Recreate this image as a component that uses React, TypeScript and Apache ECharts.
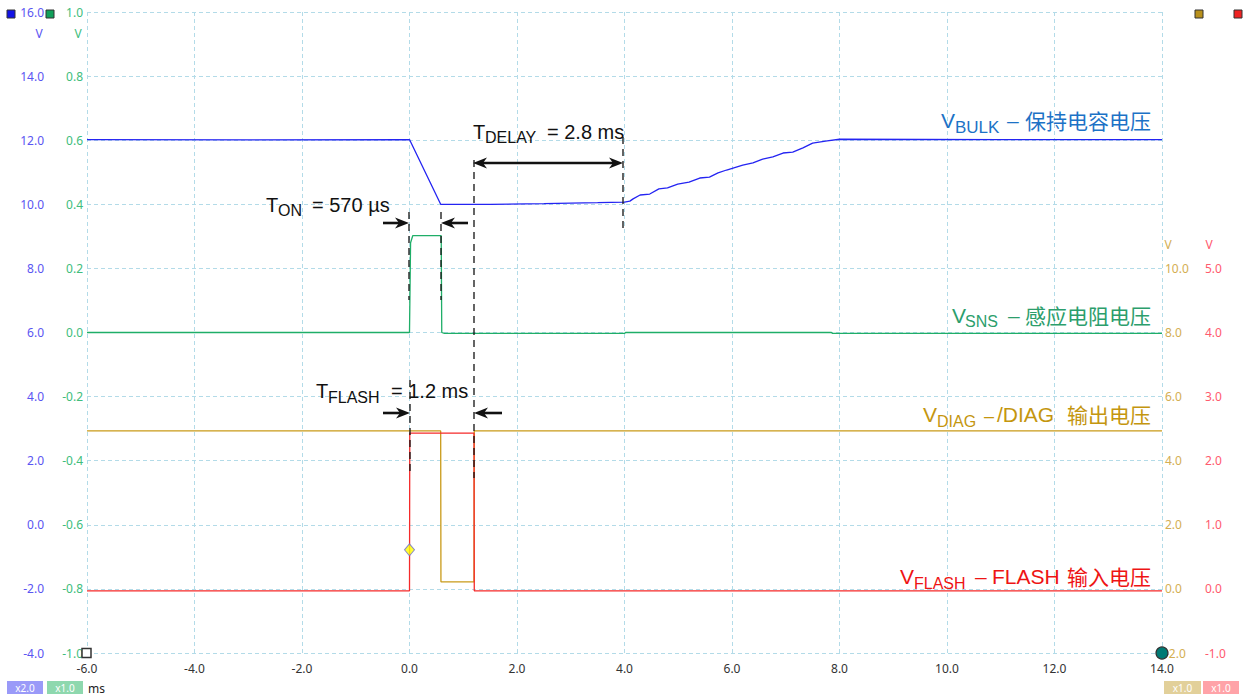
import React, { useEffect, useRef } from 'react';
import * as echarts from 'echarts';

// ---------- data (time in ms, values in V) ----------
const timeRange = [-6, 14];
const bulkData: [number, number][] = [
  [-6, 12.02], [-3, 12.01], [0, 12.02], [0.58, 10.0], [1.5, 10.0], [2.5, 10.02], [3.5, 10.05], [4.0, 10.07],
  [4.1, 10.1], [4.16, 10.17], [4.29, 10.29], [4.47, 10.32], [4.64, 10.48], [4.8, 10.51], [4.99, 10.63],
  [5.2, 10.69], [5.4, 10.82], [5.58, 10.85], [5.74, 10.98], [5.9, 11.07], [6.02, 11.13], [6.2, 11.22],
  [6.39, 11.29], [6.57, 11.41], [6.76, 11.48], [6.95, 11.6], [7.13, 11.63], [7.32, 11.76], [7.5, 11.91],
  [7.77, 11.98], [8.0, 12.03], [11, 12.02], [14, 12.02],
];
const snsData: [number, number][] = [
  [-6, 0.0], [0.0, 0.0], [0.02, 0.28], [0.06, 0.302], [0.59, 0.302], [0.6, 0.0], [0.65, -0.003],
  [4.0, -0.003], [4.02, 0.0], [7.85, 0.0], [7.87, -0.003], [14, -0.003],
];
const diagData: [number, number][] = [
  [-6, 4.93], [0.58, 4.93], [0.585, 0.22], [1.2, 0.22], [1.205, 4.93], [14, 4.93],
];
const flashData: [number, number][] = [
  [-6, -0.03], [0.0, -0.03], [0.005, 2.43], [1.2, 2.43], [1.205, -0.03], [14, -0.03],
];
const triggerPoint: [number, number][] = [[0, 0.61]];

// axis ranges
const bulkAxis = { min: -4, max: 16, interval: 2 };
const snsAxis = { min: -1, max: 1, interval: 0.2 };
const diagAxis = { min: -2, max: 18, interval: 2, labelMax: 10 };
const flashAxis = { min: -1, max: 9, interval: 1, labelMax: 5 };

const LATIN = '"Liberation Sans", Arial, sans-serif';
const CJK = '"Noto Sans CJK SC", sans-serif';
const TICK = '"Noto Sans", sans-serif';

const C = {
  bulkLine: '#2424f2', bulkText: '#1c72c6', bulkAxis: '#5a55f2',
  snsLine: '#1fae68', snsText: '#2c9e6c', snsAxis: '#40bd7c',
  diagLine: '#c99a18', diagText: '#c4960f', diagAxis: '#d4ae52',
  flashLine: '#f52a2a', flashText: '#ee1414', flashAxis: '#ff5a6e',
  grid: '#b3dbe8', ink: '#111111',
};

function txt(x: number, baseline: number, text: string, size: number, color: string, align = 'left', cjk = false) {
  const y = baseline - (cjk ? 0.38 : 0.35) * size;
  return {
    type: 'text', x, y, z: 50,
    style: {
      text, fontSize: size, fontFamily: cjk ? CJK : LATIN, fill: color,
      textAlign: align, textVerticalAlign: 'middle', align, verticalAlign: 'middle',
    },
  };
}
function small(x: number, cy: number, text: string, color: string, size = 12, align = 'left') {
  return {
    type: 'text', x, y: cy, z: 50,
    style: { text, fontSize: size, fontFamily: TICK, fill: color, textAlign: align, textVerticalAlign: 'middle', align, verticalAlign: 'middle' },
  };
}
function dashed(x: number, y1: number, y2: number) {
  return { type: 'line', z: 40, shape: { x1: x, y1, x2: x, y2 }, style: { stroke: C.ink, lineWidth: 1.3, lineDash: [7, 5] } };
}
function head(tip: number, y: number, dir: number) {
  return {
    type: 'polygon', z: 41,
    shape: { points: [[tip, y], [tip - dir * 14, y - 5.5], [tip - dir * 10, y], [tip - dir * 14, y + 5.5]] },
    style: { fill: C.ink },
  };
}
function shaft(x1: number, x2: number, y: number) {
  return { type: 'line', z: 41, shape: { x1, y1: y, x2, y2: y }, style: { stroke: C.ink, lineWidth: 2.6 } };
}
function badge(x: number, w: number, fill: string, text: string) {
  return [
    { type: 'rect', z: 50, shape: { x, y: 681, width: w, height: 13 }, style: { fill } },
    { type: 'text', x: x + w / 2, y: 688, z: 51, style: { text, fontSize: 10, fontFamily: TICK, fill: '#ffffff', textAlign: 'center', textVerticalAlign: 'middle', align: 'center', verticalAlign: 'middle' } },
  ];
}
function square(x: number, y: number, fill: string) {
  return { type: 'rect', z: 50, shape: { x, y, width: 8, height: 8 }, style: { fill, stroke: '#333333', lineWidth: 1 } };
}

export default function App() {
  const ref = useRef<HTMLDivElement>(null);
  useEffect(() => {
    document.body.style.margin = '0';
    document.body.style.overflow = 'hidden';
    const chart = echarts.init(ref.current!, undefined, { renderer: 'svg' });
    const lbl = (color: string, margin: number, maxV?: number) => ({
      color, fontSize: 12, fontFamily: TICK, margin,
      formatter: (v: number) => (maxV !== undefined && v > maxV + 1e-9 ? '' : (Math.abs(v) < 1e-9 ? 0 : v).toFixed(1)),
    });
    const graphic: any[] = [
      // annotations
      txt(266, 212, 'T', 20, C.ink), txt(278, 216, 'ON', 16, C.ink), txt(312, 212, '= 570 µs', 20, C.ink),
      txt(473, 139, 'T', 20, C.ink), txt(485, 143, 'DELAY', 16, C.ink), txt(547, 139, '= 2.8 ms', 20, C.ink),
      txt(316, 398, 'T', 20, C.ink), txt(328, 403, 'FLASH', 16, C.ink), txt(391, 398, '= 1.2 ms', 20, C.ink),
      dashed(409, 212, 300), dashed(441, 212, 300), dashed(474, 160, 478), dashed(623, 137, 228), dashed(410, 380, 476),
      shaft(383, 400, 223), head(409, 223, 1), shaft(450, 468, 223), head(441, 223, -1),
      shaft(482, 614, 163), head(473, 163, -1), head(623, 163, 1),
      shaft(383, 401, 413), head(410, 413, 1), shaft(483, 502, 413), head(474, 413, -1),
      // series labels
      txt(941, 128, 'V', 21, C.bulkText), txt(955, 133, 'BULK', 17, C.bulkText), txt(1007, 128, '–', 21, C.bulkText),
      txt(1151, 128, '保持电容电压', 21, C.bulkText, 'right', true),
      txt(952, 323, 'V', 21, C.snsText), txt(965, 327, 'SNS', 16, C.snsText), txt(1008, 323, '–', 21, C.snsText),
      txt(1151, 323, '感应电阻电压', 21, C.snsText, 'right', true),
      txt(923, 422, 'V', 21, C.diagText), txt(937, 427, 'DIAG', 16, C.diagText), txt(984, 422, '–', 18, C.diagText),
      txt(997, 422, '/DIAG', 21, C.diagText), txt(1151, 422, '输出电压', 21, C.diagText, 'right', true),
      txt(900, 584, 'V', 21, C.flashText), txt(914, 589, 'FLASH', 16, C.flashText), txt(975, 584, '–', 21, C.flashText),
      txt(992, 584, 'FLASH', 21, C.flashText), txt(1151, 584, '输入电压', 21, C.flashText, 'right', true),
      // units
      small(39, 33, 'V', C.bulkAxis, 12, 'center'), small(78, 33, 'V', C.snsAxis, 12, 'center'),
      small(1168, 244, 'V', C.diagAxis, 12, 'center'), small(1209, 244, 'V', C.flashAxis, 12, 'center'),
      small(88, 688, 'ms', '#222222', 12),
      // channel squares
      square(7, 10, '#1212e6'), square(46, 10, '#11a05a'), square(1195, 10, '#b8901c'), square(1234, 10, '#ee2222'),
      { type: 'rect', z: 100, shape: { x: 82, y: 648.5, width: 9, height: 9 }, style: { fill: '#ffffff', stroke: '#333333', lineWidth: 1.5 } },
      { type: 'circle', z: 100, shape: { cx: 1162, cy: 653, r: 6 }, style: { fill: '#007a74', stroke: '#333333', lineWidth: 1.2 } },
      ...badge(7, 36, '#9a9af8', 'x2.0'), ...badge(47, 36, '#8ed8ae', 'x1.0'),
      ...badge(1164, 37, '#e2d09a', 'x1.0'), ...badge(1203, 36, '#ffa3a8', 'x1.0'),
    ];
    const splitLine = { show: true, lineStyle: { color: C.grid, type: [4, 3] as any, width: 1 } };
    chart.setOption({
      animation: false,
      backgroundColor: '#ffffff',
      grid: { left: 87, right: 83, top: 12, bottom: 43, containLabel: false },
      xAxis: {
        type: 'value', min: timeRange[0], max: timeRange[1], interval: 2,
        axisLine: { show: false }, axisTick: { show: false }, splitLine,
        axisLabel: { color: '#333333', fontSize: 12, fontFamily: TICK, margin: 9, formatter: (v: number) => v.toFixed(1) },
      },
      yAxis: [
        { type: 'value', position: 'left', ...bulkAxis, axisLine: { show: false }, axisTick: { show: false }, splitLine, axisLabel: lbl(C.bulkAxis, 43) },
        { type: 'value', position: 'left', ...snsAxis, axisLine: { show: false }, axisTick: { show: false }, splitLine: { show: false }, axisLabel: lbl(C.snsAxis, 4) },
        { type: 'value', position: 'right', min: diagAxis.min, max: diagAxis.max, interval: diagAxis.interval, axisLine: { show: false }, axisTick: { show: false }, splitLine: { show: false }, axisLabel: lbl(C.diagAxis, 3, diagAxis.labelMax) },
        { type: 'value', position: 'right', min: flashAxis.min, max: flashAxis.max, interval: flashAxis.interval, axisLine: { show: false }, axisTick: { show: false }, splitLine: { show: false }, axisLabel: lbl(C.flashAxis, 43, flashAxis.labelMax) },
      ],
      series: [
        { name: 'VBULK', type: 'line', yAxisIndex: 0, data: bulkData, showSymbol: false, symbol: 'none', lineStyle: { color: C.bulkLine, width: 1.3 }, z: 3 },
        { name: 'VSNS', type: 'line', yAxisIndex: 1, data: snsData, showSymbol: false, symbol: 'none', lineStyle: { color: C.snsLine, width: 1.3 }, z: 3 },
        { name: 'VDIAG', type: 'line', yAxisIndex: 2, data: diagData, showSymbol: false, symbol: 'none', lineStyle: { color: C.diagLine, width: 1.3 }, z: 3 },
        { name: 'VFLASH', type: 'line', yAxisIndex: 3, data: flashData, showSymbol: false, symbol: 'none', lineStyle: { color: C.flashLine, width: 1.3 }, z: 4 },
        { name: 'trigger', type: 'scatter', yAxisIndex: 3, data: triggerPoint, symbol: 'diamond', symbolSize: [10, 12], itemStyle: { color: '#ffff00', borderColor: '#6a6ad0', borderWidth: 1 }, z: 6 },
      ],
      graphic,
    });
    return () => chart.dispose();
  }, []);
  return <div ref={ref} style={{ width: 1245, height: 696 }} />;
}
